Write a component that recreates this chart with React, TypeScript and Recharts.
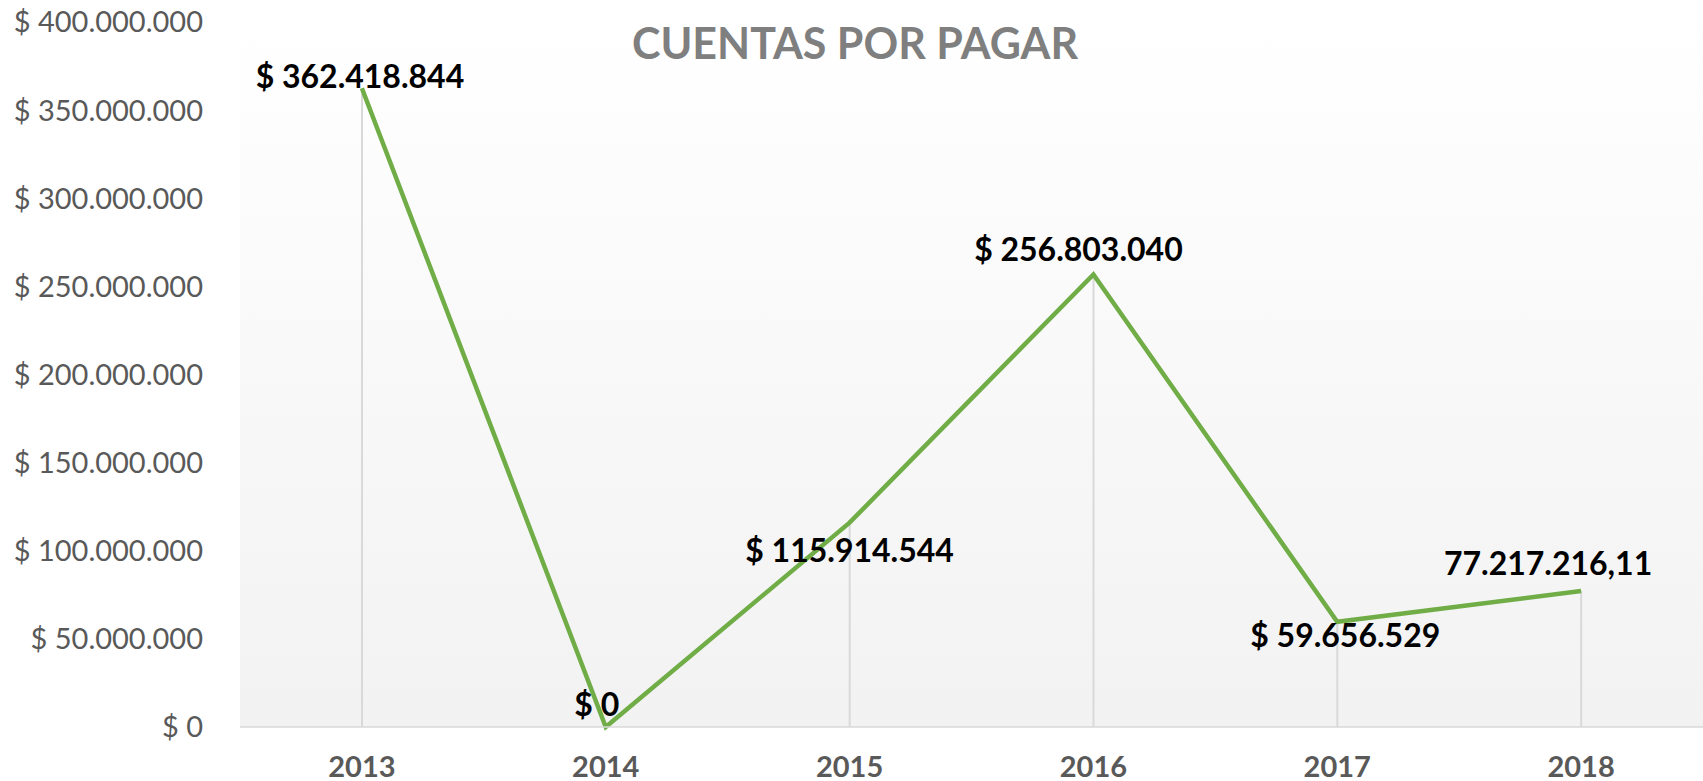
import React from "react";
import { Bar, CartesianGrid, ComposedChart, LabelList, Line, XAxis, YAxis } from "recharts";

const years = ["2013", "2014", "2015", "2016", "2017", "2018"];
const cuentas = [362418844, 0, 115914544, 256803040, 59656529, 77217216.11];
const valueLabels = ["$ 362.418.844", "$ 0", "$ 115.914.544", "$ 256.803.040", "$ 59.656.529", "77.217.216,11"];
const yTicks = [0, 50000000, 100000000, 150000000, 200000000, 250000000, 300000000, 350000000, 400000000];

// label nudges (dx, dy) relative to each point, like the Excel placement
const labelOffsets = [
  [-2, -12],
  [-9, -23],
  [0, 28],
  [-15, -25],
  [8, 14],
  [-33, -27],
];

const FONT = "Lato, 'Open Sans', sans-serif";

const data = years.map((year, i) => ({ year, value: cuentas[i], label: valueLabels[i] }));

function fmtMoney(v: number) {
  const s = Math.round(v).toString().replace(/\B(?=(\d{3})+(?!\d))/g, ".");
  return "$ " + s;
}

function YTick(props: any) {
  const { x, y, payload } = props;
  return (
    <text x={x} y={y + 10.4} textAnchor="end" fill="#595959" fontSize={29} fontFamily={FONT}>
      {fmtMoney(payload.value)}
    </text>
  );
}

function XTick(props: any) {
  const { x, payload } = props;
  return (
    <text x={x} y={777} textAnchor="middle" fill="#595959" fontSize={29} fontWeight={700} fontFamily={FONT}>
      {payload.value}
    </text>
  );
}

function PointLabel(props: any) {
  const { x, y, value } = props;
  let idx = props.index;
  if (idx === undefined || idx === null) idx = valueLabels.indexOf(value);
  const off = labelOffsets[idx] || [0, -20];
  return (
    <text
      x={x + off[0]}
      y={y + off[1] + 11.5}
      textAnchor="middle"
      fill="#000"
      fontSize={32}
      fontWeight={700}
      fontFamily={FONT}
    >
      {value}
    </text>
  );
}

export default function App() {
  return (
    <div style={{ position: "absolute", left: 0, top: 0, width: 1703, height: 781, background: "#fff" }}>
      <ComposedChart width={1703} height={781} data={data} margin={{ top: 22, right: 0, bottom: 0, left: 0 }}>
        <defs>
          <linearGradient id="plotBg" x1="0" y1="0" x2="0" y2="1">
            <stop offset="0%" stopColor="#ffffff" />
            <stop offset="100%" stopColor="#f2f2f2" />
          </linearGradient>
        </defs>
        <CartesianGrid horizontal={false} vertical={false} fill="url(#plotBg)" />
        <XAxis
          dataKey="year"
          height={54}
          axisLine={{ stroke: "#d9d9d9", strokeWidth: 1.5 }}
          tickLine={false}
          tickSize={0}
          tick={<XTick />}
          interval={0}
        />
        <YAxis
          width={240}
          domain={[0, 400000000]}
          ticks={yTicks}
          axisLine={false}
          tickLine={false}
          tickSize={0}
          tickMargin={37}
          tick={<YTick />}
          interval={0}
        />
        <Bar dataKey="value" barSize={2} fill="#d9d9d9" isAnimationActive={false} />
        <Line
          type="linear"
          dataKey="value"
          stroke="#70ad47"
          strokeWidth={4.5}
          dot={false}
          activeDot={false}
          isAnimationActive={false}
        >
          <LabelList dataKey="label" content={<PointLabel />} />
        </Line>
      </ComposedChart>
      <svg
        width={1703}
        height={781}
        style={{ position: "absolute", left: 0, top: 0, pointerEvents: "none" }}
      >
        <text x={855} y={58.5} textAnchor="middle" fill="#7f7f7f" fontSize={43} fontWeight={700} fontFamily={FONT}>
          CUENTAS POR PAGAR
        </text>
      </svg>
    </div>
  );
}
